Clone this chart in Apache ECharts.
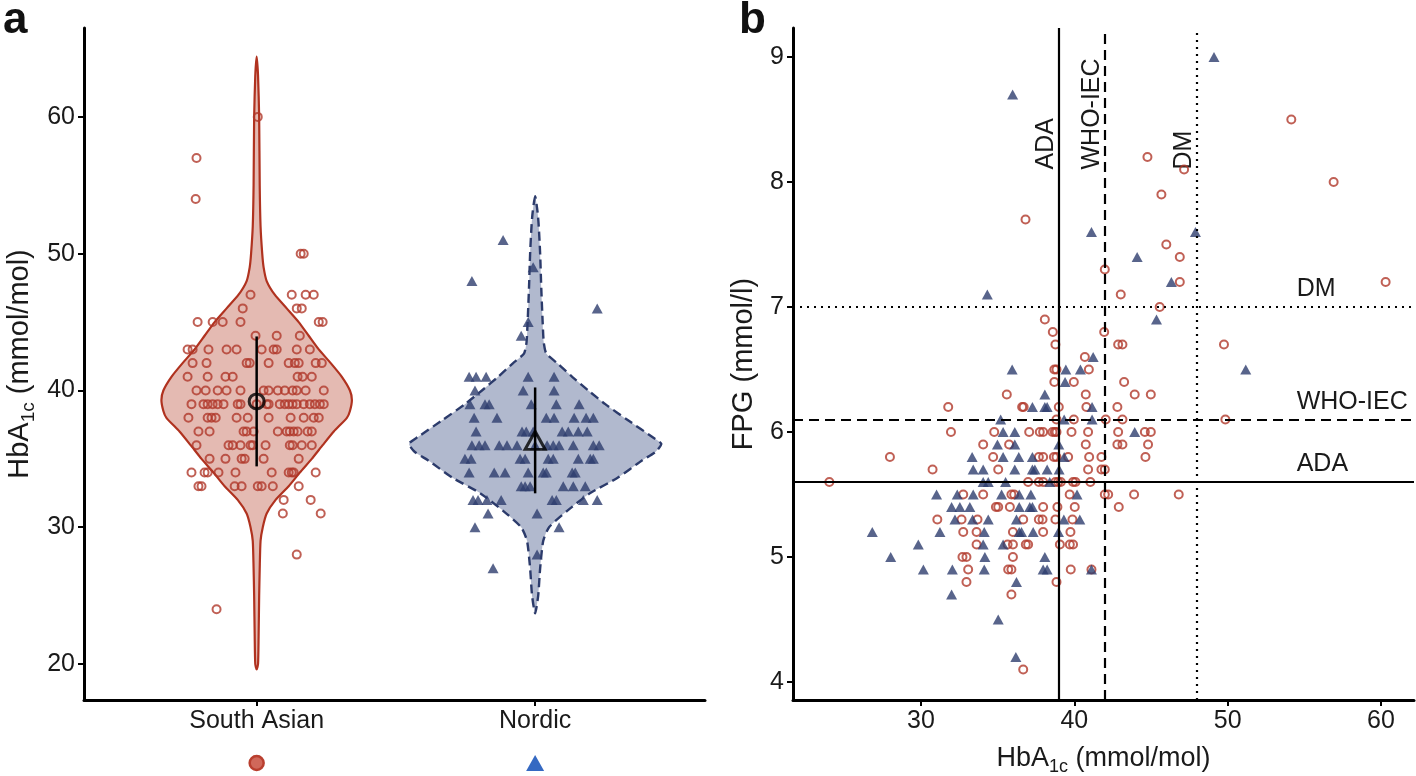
<!DOCTYPE html>
<html><head><meta charset="utf-8">
<script src="https://cdn.jsdelivr.net/npm/echarts@6/dist/echarts.min.js"></script>
<style>html,body{margin:0;padding:0;background:#fff}#c{width:1416px;height:776px}</style>
</head><body><div id="c"></div>
<script>
// ---------- data ----------
const groups = ['South Asian', 'Nordic'];
const xTicksA = [1, 2];
const yTicksA = [20, 30, 40, 50, 60];
const xTicksB = [30, 40, 50, 60];
const yTicksB = [4, 5, 6, 7, 8, 9];

// violin outlines: [HbA1c, half-width in group units]
const saViolin = [[64.4,0],[63,0.005],[60,0.009],[55,0.011],[52,0.014],[50,0.020],[49,0.025],[48,0.036],[47,0.065],[46,0.108],[45,0.151],[44,0.187],[43,0.223],[42,0.266],[41,0.306],[40,0.335],[39.3,0.342],[38.5,0.335],[38,0.324],[37,0.277],[36,0.237],[35,0.198],[34,0.155],[33,0.115],[32,0.068],[31,0.036],[30,0.022],[29,0.014],[27,0.011],[25,0.009],[22,0.007],[20,0.005],[19.6,0]];
const noViolin = [[54.2,0],[53,0.009],[52,0.013],[50,0.018],[47.5,0.022],[45,0.027],[43.5,0.031],[42.7,0.040],[42,0.079],[41,0.133],[40,0.191],[39,0.252],[37.8,0.335],[36.6,0.421],[36.1,0.453],[35.5,0.432],[34.9,0.385],[33.6,0.295],[32.5,0.198],[31.2,0.115],[30,0.050],[29,0.029],[27,0.018],[25,0.011],[23.7,0]];

// jittered points panel a: [group position, HbA1c]
const saPoints = [[1.004,60],[0.784,57],[0.781,54],[1.158,50],[1.169,50],
[0.978,47],[1.126,47],[1.176,47],[1.205,47],
[0.950,46],[1.144,46],[1.162,46],
[0.788,45],[0.842,45],[0.878,45],[0.942,45],[1.223,45],[1.237,45],
[0.996,44],[1.072,44],[1.155,44],
[0.752,43],[0.770,43],[0.827,43],[0.892,43],[0.928,43],[1.018,43],[1.061,43],[1.072,43],[1.144,43],[1.191,43],
[0.770,42],[0.820,42],[0.964,42],[0.975,42],[1.043,42],[1.115,42],[1.137,42],[1.151,42],[1.212,42],[1.234,42],
[0.752,41],[0.824,41],[0.888,41],[0.914,41],[1.147,41],[1.165,41],[1.198,41],
[0.784,40],[0.817,40],[0.860,40],[0.892,40],[0.942,40],[1.025,40],[1.043,40],[1.076,40],[1.101,40],[1.129,40],[1.144,40],[1.176,40],[1.241,40],
[0.766,39],[0.809,39],[0.824,39],[0.842,39],[0.860,39],[0.881,39],[0.932,39],[0.942,39],[1.000,39],[1.036,39],[1.043,39],[1.083,39],[1.101,39],[1.115,39],[1.129,39],[1.144,39],[1.169,39],[1.191,39],[1.209,39],[1.227,39],[1.241,39],
[0.755,38],[0.824,38],[0.838,38],[0.853,38],[0.928,38],[0.968,38],[1.043,38],[1.122,38],[1.169,38],[1.205,38],[1.223,38],
[0.791,37],[0.831,37],[0.953,37],[0.964,37],[0.989,37],[1.076,37],[1.108,37],[1.119,37],[1.133,37],[1.147,37],[1.183,37],[1.198,37],
[0.784,36],[0.899,36],[0.914,36],[0.942,36],[0.978,36],[0.986,36],[1.032,36],[1.119,36],[1.129,36],[1.162,36],[1.198,36],
[0.831,35],[0.888,35],[0.946,35],[0.957,35],[1.025,35],[1.151,35],
[0.766,34],[0.813,34],[0.824,34],[0.863,34],[0.924,34],[1.054,34],[1.115,34],[1.126,34],[1.133,34],[1.212,34],
[0.791,33],[0.802,33],[0.921,33],[0.946,33],[1.004,33],[1.018,33],[1.058,33],[1.151,33],
[1.097,32],[1.194,32],[1.094,31],[1.230,31],[1.144,28],[0.856,24]];
const noPoints = [[1.885,51],[1.993,49],[1.773,48],[2.223,46],[1.975,45],[1.950,44],
[1.763,41],[1.788,41],[1.824,41],[1.975,41],[2.068,41],
[1.784,40],[1.957,40],[2.068,40],
[1.766,39],[1.820,39],[1.835,39],[1.986,39],[2.076,39],[2.158,39],
[1.781,38],[1.863,38],[2.040,38],[2.068,38],[2.140,38],[2.183,38],[2.209,38],
[1.788,37],[1.953,37],[1.968,37],[1.993,37],[2.097,37],[2.119,37],[2.155,37],[2.187,37],
[1.773,36],[1.799,36],[1.820,36],[1.871,36],[1.899,36],[1.935,36],[2.000,36],[2.043,36],[2.065,36],[2.086,36],[2.137,36],[2.209,36],[2.230,36],
[1.748,35],[1.770,35],[1.946,35],[1.964,35],[2.047,35],[2.065,35],[2.155,35],[2.198,35],[2.209,35],
[1.763,34],[1.853,34],[1.892,34],[1.975,34],[2.029,34],[2.040,34],[2.133,34],[2.144,34],
[1.950,33],[1.964,33],[1.982,33],[2.101,33],[2.137,33],[2.180,33],
[1.777,32],[1.795,32],[1.827,32],[1.878,32],[2.061,32],[2.076,32],[2.173,32],[2.223,32],
[1.831,31],[2.007,31],[1.784,30],[2.086,30],[2.007,28],[1.849,27]];
const groupMeans = [39.2, 36.35];
const groupSDs = [4.75, 3.87];

// panel b: [HbA1c, FPG]
const saScatter = [[54.15,8.5],[44.77,8.2],[47.16,8.1],[45.68,7.9],[56.91,8.0],[46.0,7.5],[46.88,7.4],[41.99,7.3],[46.88,7.2],[60.3,7.2],[43.03,7.1],[45.57,7.0],[41.95,6.8],[42.86,6.7],[43.14,6.7],[49.76,6.7],[40.69,6.6],[40.95,6.5],
[43.25,6.4],[40.75,6.3],[43.94,6.3],[44.99,6.3],[40.79,6.2],[42.81,6.2],[42.05,6.1],[43.14,6.1],[49.85,6.1],[40.9,6.0],[42.86,6.0],[44.6,6.0],[44.99,6.0],[40.75,5.9],[42.81,5.9],[43.14,5.9],[44.81,5.9],[40.97,5.8],[41.77,5.8],[44.64,5.8],[40.9,5.7],[41.77,5.7],[41.99,5.7],[41.05,5.6],[41.99,5.5],[42.21,5.5],[43.9,5.5],[46.81,5.5],[42.9,5.4],[41.12,4.9],
[38.08,6.9],[38.6,6.8],[38.77,6.7],[38.7,6.5],[38.84,6.5],[38.7,6.4],[39.97,6.4],[35.6,6.3],[36.6,6.2],[36.7,6.2],[38.99,6.2],[38.84,6.1],[39.97,6.1],[34.78,6.0],[37.06,6.0],[37.75,6.0],[37.97,6.0],[38.58,6.0],[38.73,6.0],[38.84,6.0],[39.82,6.0],[34.06,5.9],[35.75,5.9],[34.71,5.8],[37.69,5.8],[37.97,5.8],[38.67,5.8],[38.84,5.8],[39.6,5.8],[35.04,5.7],[36.99,5.6],[37.69,5.6],[37.97,5.6],[38.77,5.6],[38.95,5.6],[39.12,5.6],[39.92,5.6],[40.08,5.6],[32.76,5.5],[34.06,5.5],[35.9,5.5],[36.08,5.5],[39.7,5.5],[34.89,5.4],[35.04,5.4],[35.8,5.4],[37.97,5.4],[38.9,5.4],[40.03,5.4],[32.65,5.3],[33.69,5.3],[36.67,5.3],[37.69,5.3],[37.93,5.3],[38.77,5.3],[39.88,5.3],[32.76,5.2],[33.63,5.2],[36.0,5.2],[37.97,5.2],[39.75,5.2],[33.63,5.1],[35.65,5.1],[36.0,5.1],[36.84,5.1],[36.99,5.1],[39.06,5.1],[39.71,5.1],[39.92,5.1],[32.71,5.0],[32.97,5.0],[36.0,5.0],[33.08,4.9],[35.69,4.9],[35.9,4.9],[39.77,4.9],[32.97,4.8],[38.84,4.8],[35.9,4.7],
[36.82,7.7],[31.78,6.2],[31.96,6.0],[27.98,5.8],[30.76,5.7],[24.03,5.6],[31.07,5.3],[36.67,4.1]];
const noScatter = [[49.11,9.0],[35.98,8.7],[41.12,7.6],[47.9,7.6],[44.1,7.4],[46.33,7.2],[34.33,7.1],[45.36,6.9],[41.23,6.6],[51.18,6.5],[40.4,6.5],
[41.16,6.2],[41.16,6.1],[43.94,6.0],[41.12,4.9],
[35.95,6.5],[39.45,6.5],[39.4,6.4],[38.08,6.3],[37.27,6.2],[38.08,6.2],[38.23,6.2],[35.2,6.1],[39.34,6.1],[35.36,6.0],[36.12,6.0],[34.99,5.9],[36.12,5.9],[38.99,5.9],[33.34,5.8],[35.36,5.8],[36.38,5.8],[37.27,5.8],[39.34,5.8],[33.41,5.7],[34.06,5.7],[36.12,5.7],[37.27,5.7],[37.43,5.7],[38.23,5.7],[39.01,5.7],[34.06,5.6],[34.39,5.6],[35.52,5.6],[38.4,5.6],[33.41,5.5],[35.26,5.5],[36.41,5.5],[37.17,5.5],[40.18,5.5],[32.54,5.4],[33.19,5.4],[36.41,5.4],[37.1,5.4],[37.27,5.4],[33.37,5.3],[34.39,5.3],[36.23,5.3],[39.32,5.3],[40.36,5.3],[34.13,5.2],[36.41,5.2],[36.56,5.2],[37.32,5.2],[38.97,5.2],[34.06,5.1],[35.36,5.1],[34.17,5.0],[38.08,5.0],[34.13,4.9],[37.97,4.9],[38.23,4.9],[36.23,4.8],
[31.02,5.5],[32.37,5.5],[32.0,5.4],[32.22,5.3],[31.24,5.2],[26.83,5.2],[29.83,5.1],[28.03,5.0],[30.16,4.9],[32.05,4.9],[32.0,4.7],[35.04,4.5],[36.19,4.2]];

const thresholdNames = ['ADA', 'WHO-IEC', 'DM'];
const hbThresholds = [39, 42, 48];
const fpgThresholds = [5.6, 6.1, 7.0];

// ---------- styles ----------
const FONT = '"Liberation Sans", Arial, Helvetica, sans-serif';
const INK = '#1a1a1a';
const RED = '#b0382a';
const BLUE = '#2e3d6e';
const lineTypes = ['solid', [10, 6], [2, 5]];

function axisCommon(ticks, fmt) {
  return {
    axisLine: { show: true, onZero: false, lineStyle: { color: '#000', width: 3 } },
    axisTick: { show: true, customValues: ticks, length: 6, lineStyle: { color: '#000', width: 2 } },
    axisLabel: { customValues: ticks, fontSize: 25, color: INK, fontFamily: FONT, margin: 9, formatter: fmt },
    splitLine: { show: false }
  };
}
function nameRich(size) {
  return {
    m: { fontSize: size, fontFamily: FONT, color: INK, lineHeight: Math.round(size * 1.26) },
    s: { fontSize: Math.round(size * 0.67), fontFamily: FONT, color: INK, lineHeight: Math.round(size * 0.67), verticalAlign: 'bottom' }
  };
}

const chart = echarts.init(document.getElementById('c'));
const option = {
  animation: false,
  backgroundColor: '#fff',
  grid: [
    { left: 84, top: 28, width: 621, height: 672, outerBoundsMode: 'none', containLabel: false },
    { left: 793, top: 28, width: 621, height: 672, outerBoundsMode: 'none', containLabel: false }
  ],
  xAxis: [
    Object.assign({ type: 'value', gridIndex: 0, min: 0.38, max: 2.61 },
      axisCommon(xTicksA, v => groups[Math.round(v) - 1])),
    Object.assign({ type: 'value', gridIndex: 1, min: 21.66, max: 62.15,
      name: '{m|HbA}{s|1c}{m| (mmol/mol)}', nameLocation: 'middle', nameGap: 42,
      nameTextStyle: { rich: nameRich(27) } }, axisCommon(xTicksB))
  ],
  yAxis: [
    Object.assign({ type: 'value', gridIndex: 0, min: 17.37, max: 66.5,
      name: '{m|HbA}{s|1c}{m| (mmol/mol)}', nameLocation: 'middle', nameGap: 46, nameRotate: 90,
      nameTextStyle: { rich: nameRich(29) } }, axisCommon(yTicksA)),
    Object.assign({ type: 'value', gridIndex: 1, min: 3.856, max: 9.232,
      name: 'FPG (mmol/l)', nameLocation: 'middle', nameGap: 35, nameRotate: 90,
      nameTextStyle: { fontSize: 29, fontFamily: FONT, color: INK } }, axisCommon(yTicksB))
  ],
  series: [
    {
      type: 'custom', xAxisIndex: 0, yAxisIndex: 0, silent: true, z: 1,
      data: [[1, groupMeans[0]], [2, groupMeans[1]]],
      renderItem: function (params, api) {
        const g = params.dataIndex;
        const prof = g === 0 ? saViolin : noViolin;
        const cx = g + 1;
        const left = prof.map(p => api.coord([cx - p[1], p[0]]));
        const right = prof.slice(1, -1).reverse().map(p => api.coord([cx + p[1], p[0]]));
        return {
          type: 'polygon',
          shape: { points: left.concat(right), smooth: 0.2 },
          style: g === 0
            ? { fill: 'rgba(205,130,115,0.55)', stroke: '#b0321f', lineWidth: 2.2 }
            : { fill: 'rgba(155,165,192,0.78)', stroke: '#2c3b6b', lineWidth: 2.4, lineDash: [9, 5] }
        };
      }
    },
    {
      type: 'scatter', xAxisIndex: 0, yAxisIndex: 0, silent: true, z: 2,
      data: saPoints, symbol: 'circle', symbolSize: 8,
      itemStyle: { color: 'rgba(0,0,0,0)', borderColor: RED, borderWidth: 2 }
    },
    {
      type: 'scatter', xAxisIndex: 0, yAxisIndex: 0, silent: true, z: 2,
      data: noPoints, symbol: 'triangle', symbolSize: [11, 10],
      itemStyle: { color: BLUE }
    },
    {
      type: 'custom', xAxisIndex: 0, yAxisIndex: 0, silent: true, z: 3,
      data: groupMeans.map((m, i) => [i + 1, m, groupSDs[i]]),
      renderItem: function (params, api) {
        const x = api.value(0), m = api.value(1), s = api.value(2);
        const a = api.coord([x, m + s]), b = api.coord([x, m - s]);
        return { type: 'line', shape: { x1: a[0], y1: a[1], x2: b[0], y2: b[1] },
          style: { stroke: '#000', lineWidth: 2.5 } };
      }
    },
    {
      type: 'scatter', xAxisIndex: 0, yAxisIndex: 0, silent: true, z: 4,
      data: [[1, groupMeans[0]]], symbol: 'circle', symbolSize: 15,
      itemStyle: { color: 'rgba(0,0,0,0)', borderColor: '#000', borderWidth: 3 }
    },
    {
      type: 'scatter', xAxisIndex: 0, yAxisIndex: 0, silent: true, z: 4,
      data: [[2, groupMeans[1]]], symbol: 'triangle', symbolSize: [20, 18],
      itemStyle: { color: 'rgba(0,0,0,0)', borderColor: '#000', borderWidth: 3 }
    },
    {
      type: 'scatter', xAxisIndex: 1, yAxisIndex: 1, silent: true, z: 2,
      data: saScatter, symbol: 'circle', symbolSize: 8,
      itemStyle: { color: 'rgba(0,0,0,0)', borderColor: RED, borderWidth: 2 }
    },
    {
      type: 'scatter', xAxisIndex: 1, yAxisIndex: 1, silent: true, z: 3,
      data: noScatter, symbol: 'triangle', symbolSize: [11, 10],
      itemStyle: { color: BLUE }
    },
    {
      type: 'line', xAxisIndex: 1, yAxisIndex: 1, silent: true, z: 5, data: [],
      markLine: {
        silent: true, symbol: 'none', animation: false,
        label: { show: false },
        data: hbThresholds.map((v, i) => ({ xAxis: v, lineStyle: { color: '#000', width: 2.2, type: lineTypes[i] } }))
          .concat(fpgThresholds.map((v, i) => ({ yAxis: v, lineStyle: { color: '#000', width: 2.2, type: lineTypes[i] } })))
      }
    }
  ]
};
chart.setOption(option);

// annotations placed through the axes
const gfx = [];
gfx.push({ type: 'text', left: 3, top: -1, style: { text: 'a', font: 'bold 44px ' + FONT, fill: '#111' } });
gfx.push({ type: 'text', left: 739, top: -1, style: { text: 'b', font: 'bold 44px ' + FONT, fill: '#111' } });
thresholdNames.forEach((n, i) => {
  const pv = chart.convertToPixel({ xAxisIndex: 1, yAxisIndex: 1 }, [hbThresholds[i] - 0.85, 8.1]);
  gfx.push({ type: 'text', x: pv[0], y: pv[1], rotation: Math.PI / 2,
    style: { text: n, font: '25px ' + FONT, fill: INK, align: 'left', verticalAlign: 'middle' } });
  const ph = chart.convertToPixel({ xAxisIndex: 1, yAxisIndex: 1 }, [54.5, fpgThresholds[i] + 0.143]);
  gfx.push({ type: 'text', x: ph[0], y: ph[1],
    style: { text: n, font: '25px ' + FONT, fill: INK, align: 'left', verticalAlign: 'middle' } });
});
const k1 = chart.convertToPixel({ xAxisIndex: 0 }, 1);
const k2 = chart.convertToPixel({ xAxisIndex: 0 }, 2);
gfx.push({ type: 'circle', shape: { cx: k1, cy: 763, r: 7 }, style: { fill: '#d0685a', stroke: '#b93f2f', lineWidth: 2.5 } });
gfx.push({ type: 'polygon', shape: { points: [[k2 - 9, 771], [k2 + 9, 771], [k2, 755]] }, style: { fill: '#3569c2' } });
chart.setOption({ graphic: gfx });
</script></body></html>
